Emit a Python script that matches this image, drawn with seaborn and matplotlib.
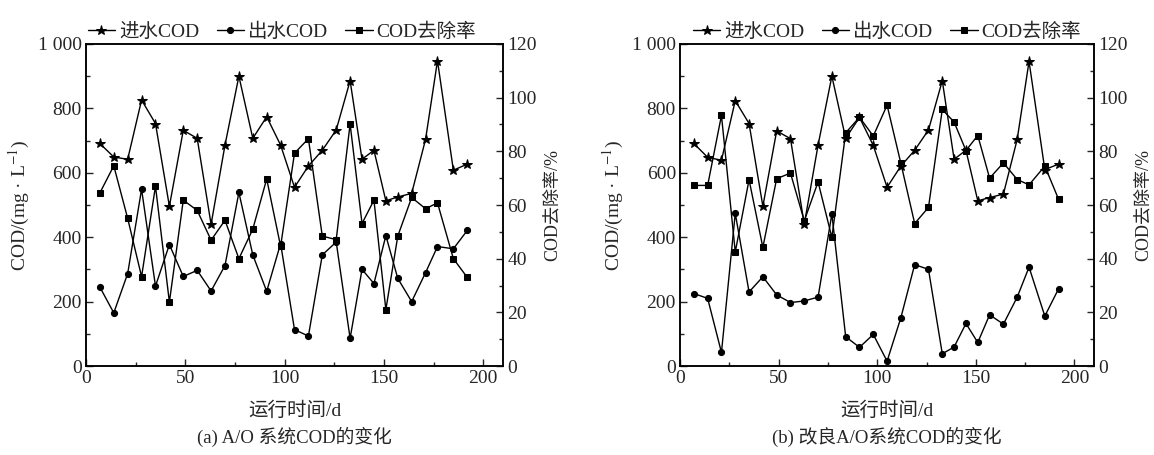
import matplotlib
matplotlib.use('Agg')
import matplotlib.pyplot as plt
import seaborn as sns
import pandas as pd
from matplotlib.ticker import MultipleLocator, FuncFormatter

# sampling days (same for both systems)
days = [7, 14, 21, 28, 35, 42, 49, 56, 63, 70, 77, 84, 91, 98, 105, 112, 119, 126,
        133, 139, 145, 151, 157, 164, 171, 177, 185, 192]

# (a) A/O system
a_in = [691, 649, 642, 826, 753, 496, 732, 707, 440, 686, 900, 707, 774, 686,
        555, 621, 670, 733, 886, 642, 670, 513, 525, 536, 704, 948, 608, 627]
a_out = [245, 165, 287, 549, 248, 377, 278, 297, 233, 312, 539, 345, 232, 380,
         113, 93, 345, 385, 86, 300, 256, 405, 272, 200, 290, 371, 364, 421]
a_rate = [64.5, 74.6, 55.0, 33.3, 67.0, 23.8, 61.8, 58.0, 46.9, 54.3, 40.0, 51.0, 69.7, 44.6,
          79.3, 84.7, 48.4, 47.1, 90.2, 53.1, 61.8, 21.0, 48.4, 62.8, 58.6, 60.8, 40.0, 33.0]

# (b) improved A/O system
b_in = [691, 648, 639, 824, 753, 496, 730, 706, 440, 686, 900, 707, 772, 685,
        555, 621, 670, 733, 886, 642, 670, 513, 523, 534, 704, 946, 610, 627]
b_out = [225, 210, 42, 474, 230, 277, 221, 197, 202, 214, 472, 91, 58, 98,
         15, 150, 315, 300, 38, 59, 132, 73, 159, 130, 214, 307, 155, 240]
b_rate = [67.3, 67.3, 93.4, 42.5, 69.4, 44.2, 69.8, 71.9, 54.1, 68.6, 47.9, 86.9, 92.7, 85.7,
          97.2, 75.5, 53.1, 59.1, 95.6, 90.9, 80.3, 85.9, 70.0, 75.7, 69.5, 67.5, 74.5, 62.1]

legend_labels = ['进水COD', '出水COD', 'COD去除率']
captions = ['(a) A/O 系统COD的变化', '(b) 改良A/O系统COD的变化']

sns.set_style('ticks')
plt.rcParams['font.family'] = ['Liberation Serif', 'Noto Sans CJK SC', 'DejaVu Sans']
plt.rcParams['mathtext.fontset'] = 'stix'
plt.rcParams['font.size'] = 14
plt.rcParams['xtick.direction'] = 'in'
plt.rcParams['ytick.direction'] = 'in'

fig = plt.figure(figsize=(11.54, 4.55), dpi=100)
positions = [[0.0745, 0.1956, 0.3614, 0.7077], [0.5893, 0.1956, 0.3588, 0.7077]]
panels = [(a_in, a_out, a_rate), (b_in, b_out, b_rate)]
legend_x = [0.47, 0.5]


def thousands(v, pos):
    v = int(round(v))
    if v >= 1000:
        return '%d %03d' % (v // 1000, v % 1000)
    return str(v)


for i, (cin, cout, rate) in enumerate(panels):
    df = pd.DataFrame({'day': days, 'cin': cin, 'cout': cout, 'rate': rate})
    ax = fig.add_axes(positions[i])
    ax2 = ax.twinx()
    sns.lineplot(data=df, x='day', y='cin', ax=ax, color='black', lw=1,
                 marker='*', markersize=12.5, markeredgecolor='black', label=legend_labels[0], legend=False)
    sns.lineplot(data=df, x='day', y='cout', ax=ax, color='black', lw=1,
                 marker='o', markersize=8, markeredgecolor='black', label=legend_labels[1], legend=False)
    sns.lineplot(data=df, x='day', y='rate', ax=ax2, color='black', lw=1,
                 marker='s', markersize=7.5, markeredgecolor='black', label=legend_labels[2], legend=False)

    ax.set_xlim(0, 210)
    ax.set_ylim(0, 1000)
    ax2.set_ylim(0, 120)
    ax.xaxis.set_major_locator(MultipleLocator(50))
    ax.xaxis.set_minor_locator(MultipleLocator(25))
    ax.yaxis.set_major_locator(MultipleLocator(200))
    ax.yaxis.set_minor_locator(MultipleLocator(100))
    ax.yaxis.set_major_formatter(FuncFormatter(thousands))
    ax2.yaxis.set_major_locator(MultipleLocator(20))
    ax2.yaxis.set_minor_locator(MultipleLocator(10))
    for a in (ax, ax2):
        a.tick_params(which='major', length=5, width=1, labelsize=14, pad=3)
        a.tick_params(which='minor', length=3, width=1)
        for s in a.spines.values():
            s.set_linewidth(1.1)
            s.set_color('black')
    ax.set_xlabel('')
    ax.set_ylabel('COD/(mg · L$^{-1}$)', fontsize=14, labelpad=4)
    ax2.set_ylabel('COD去除率/%', fontsize=13, labelpad=5)

    h1, l1 = ax.get_legend_handles_labels()
    h2, l2 = ax2.get_legend_handles_labels()
    for h in h1 + h2:
        h.set_markersize(h.get_markersize() * 0.55)
    ax.legend(h1 + h2, l1 + l2, loc='lower center', bbox_to_anchor=(legend_x[i], 0.985), ncol=3,
              frameon=False, fontsize=14, handlelength=1.4, handletextpad=0.2,
              columnspacing=0.9, borderaxespad=0)

    cx = positions[i][0] + positions[i][2] / 2
    fig.text(cx, 1 - 411 / 455, '运行时间/d', ha='center', va='center', fontsize=14)
    fig.text(cx, 1 - 437 / 455, captions[i], ha='center', va='center', fontsize=13.5)

fig.savefig('out.png', dpi=100)
